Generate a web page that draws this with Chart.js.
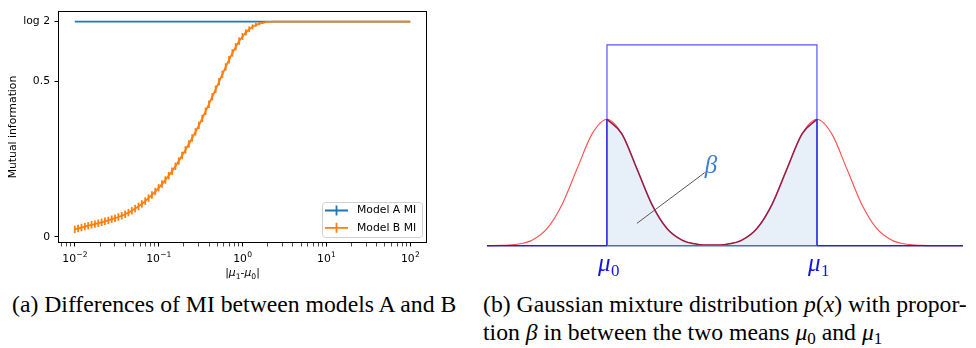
<!DOCTYPE html>
<html>
<head>
<meta charset="utf-8">
<script src="https://cdn.jsdelivr.net/npm/chart.js@4.4.0/dist/chart.umd.min.js"></script>
<style>
  body { margin: 0; background: #fff; }
  #page { position: relative; width: 976px; height: 348px; overflow: hidden; }
  canvas { position: absolute; top: 0; }
  #miChart { left: 0; }
  #gaussChart { left: 470px; }
  .cap { position: absolute; top: 290px; font-family: "Liberation Serif", "Times New Roman", serif; font-size: 23.7px; line-height: 28px; color: #000; white-space: nowrap; }
  .cap sub { font-size: 17px; vertical-align: -4px; line-height: 0; }
  #capA { left: 12px; }
  #capB { left: 483px; }
  #capB .l1 { width: 475px; text-align: justify; text-align-last: justify; }
</style>
</head>
<body>
<div id="page">
  <canvas id="miChart" width="440" height="290"></canvas>
  <canvas id="gaussChart" width="506" height="290"></canvas>
  <div class="cap" id="capA">(a) Differences of MI between models A and B</div>
  <div class="cap" id="capB">
    <div class="l1">(b) Gaussian mixture distribution <i>p</i>(<i>x</i>) with propor-</div>
    <div>tion <i>β</i> in between the two means <i>μ</i><sub>0</sub> and <i>μ</i><sub>1</sub></div>
  </div>
</div>
<script>
// ---- panel (a): mutual information vs |mu1 - mu0| ----
const LOG2 = 0.693;

// log10 of |mu1 - mu0| for each error bar
const xExp = [
  -2.00, -1.96, -1.92, -1.88, -1.84, -1.80, -1.76, -1.72, -1.68, -1.64,
  -1.60, -1.56, -1.52, -1.48, -1.44, -1.40, -1.36, -1.32, -1.28, -1.24,
  -1.20, -1.16, -1.12, -1.08, -1.04, -1.00, -0.96, -0.92, -0.88, -0.84,
  -0.80, -0.76, -0.72, -0.68, -0.64, -0.60, -0.56, -0.52, -0.48, -0.44,
  -0.40, -0.36, -0.32, -0.28, -0.24, -0.20, -0.16, -0.12, -0.08, -0.04,
   0.00,  0.04,  0.08,  0.12,  0.16,  0.20,  0.24,  0.28,  0.32,  0.36,
   0.40,  0.44,  0.48,  0.52,  0.56,  0.60,  0.64,  0.68,  0.72,  0.76,
   0.80,  0.84,  0.88,  0.92,  0.96,  1.00,  1.04,  1.08,  1.12,  1.16,
   1.20,  1.24,  1.28,  1.32,  1.36,  1.40,  1.44,  1.48,  1.52,  1.56,
   1.60,  1.64,  1.68,  1.72,  1.76,  1.80,  1.84,  1.88,  1.92,  1.96,
   2.00
];

const modelB = [
  0.024, 0.027, 0.030, 0.033, 0.036, 0.039, 0.041, 0.044, 0.047, 0.050,
  0.053, 0.057, 0.060, 0.064, 0.068, 0.073, 0.078, 0.084, 0.091, 0.098,
  0.106, 0.115, 0.125, 0.135, 0.146, 0.158, 0.170, 0.183, 0.197, 0.211,
  0.227, 0.244, 0.262, 0.280, 0.299, 0.318, 0.338, 0.359, 0.381, 0.404,
  0.427, 0.451, 0.475, 0.499, 0.523, 0.547, 0.570, 0.592, 0.612, 0.630,
  0.645, 0.658, 0.668, 0.676, 0.682, 0.686, 0.689, 0.691, 0.692, 0.693,
  0.693, 0.693, 0.693, 0.693, 0.693, 0.693, 0.693, 0.693, 0.693, 0.693,
  0.693, 0.693, 0.693, 0.693, 0.693, 0.693, 0.693, 0.693, 0.693, 0.693,
  0.693, 0.693, 0.693, 0.693, 0.693, 0.693, 0.693, 0.693, 0.693, 0.693,
  0.693, 0.693, 0.693, 0.693, 0.693, 0.693, 0.693, 0.693, 0.693, 0.693,
  0.693
];

const modelBErr = [
  0.012, 0.012, 0.012, 0.012, 0.012, 0.012, 0.012, 0.012, 0.012, 0.012,
  0.012, 0.012, 0.012, 0.012, 0.012, 0.012, 0.012, 0.012, 0.012, 0.012,
  0.012, 0.012, 0.012, 0.012, 0.012, 0.012, 0.012, 0.012, 0.012, 0.012,
  0.012, 0.012, 0.012, 0.012, 0.012, 0.012, 0.012, 0.012, 0.012, 0.012,
  0.012, 0.012, 0.012, 0.012, 0.012, 0.012, 0.012, 0.012, 0.012, 0.012,
  0.011, 0.010, 0.009, 0.008, 0.006, 0.005, 0.004, 0.003, 0.002, 0.001,
  0, 0, 0, 0, 0, 0, 0, 0, 0, 0,
  0, 0, 0, 0, 0, 0, 0, 0, 0, 0,
  0, 0, 0, 0, 0, 0, 0, 0, 0, 0,
  0, 0, 0, 0, 0, 0, 0, 0, 0, 0,
  0
];

// model A stays at log 2 over the whole range
const modelAExp = [-2, 2];
const modelA = [LOG2, LOG2];

const xTickValues = [0.01, 0.1, 1, 10, 100];
const xTickExps = ['−2', '−1', '0', '1', '2'];
const yTickValues = [0, 0.5, LOG2];
const yTickLabels = ['0', '0.5', 'log 2'];

const tickFont = { family: 'DejaVu Sans', size: 10.8 };

const errorBars = {
  id: 'errorBars',
  afterDatasetsDraw(chart) {
    const { ctx, scales: { x, y } } = chart;
    chart.data.datasets.forEach(ds => {
      if (!ds.errors) return;
      ctx.save();
      ctx.strokeStyle = ds.borderColor;
      ctx.lineWidth = 1.8;
      ds.data.forEach((p, i) => {
        const e = ds.errors[i];
        if (!e) return;
        const px = x.getPixelForValue(p.x);
        ctx.beginPath();
        ctx.moveTo(px, y.getPixelForValue(p.y - e));
        ctx.lineTo(px, y.getPixelForValue(p.y + e));
        ctx.stroke();
      });
      ctx.restore();
    });
  }
};

const frame = {
  id: 'frame',
  afterDraw(chart) {
    const { ctx, chartArea: a } = chart;
    ctx.save();
    ctx.strokeStyle = '#000';
    ctx.lineWidth = 1;
    ctx.strokeRect(Math.round(a.left) + 0.5, Math.round(a.top) + 0.5,
      Math.round(a.width) - 1, Math.round(a.height) - 1);
    ctx.restore();
  }
};

// 10^k tick labels and the |mu1-mu0| axis title, with real superscripts/subscripts
const xAxisText = {
  id: 'xAxisText',
  afterDraw(chart) {
    const { ctx, scales: { x }, chartArea: a } = chart;
    const big = '10.8px "DejaVu Sans"', small = '7.6px "DejaVu Sans"';
    ctx.save();
    ctx.fillStyle = '#000';
    ctx.textBaseline = 'alphabetic';
    ctx.textAlign = 'left';
    xTickValues.forEach((v, i) => {
      const px = x.getPixelForValue(v);
      ctx.font = big;
      const wb = ctx.measureText('10').width;
      ctx.font = small;
      const we = ctx.measureText(xTickExps[i]).width;
      const left = px - (wb + we) / 2;
      ctx.font = big;
      ctx.fillText('10', left, a.bottom + 19);
      ctx.font = small;
      ctx.fillText(xTickExps[i], left + wb + 0.3, a.bottom + 14);
    });
    const parts = [
      ['|', big], ['μ', 'italic ' + big], ['1', small], ['-', big],
      ['μ', 'italic ' + big], ['0', small], ['|', big]
    ];
    let total = 0;
    parts.forEach(p => { ctx.font = p[1]; total += ctx.measureText(p[0]).width; });
    let cx = (a.left + a.right) / 2 - total / 2;
    parts.forEach(p => {
      ctx.font = p[1];
      ctx.fillText(p[0], cx, p[1] === small ? 278.5 : 276);
      cx += ctx.measureText(p[0]).width;
    });
    ctx.restore();
  }
};

// matplotlib-style legend box in the lower right corner
const boxLegend = {
  id: 'boxLegend',
  afterDraw(chart) {
    const { ctx, chartArea: a } = chart;
    const w = 100, h = 35;
    const left = Math.round(a.right - 5 - w), top = Math.round(a.bottom - 5.5 - h);
    ctx.save();
    ctx.fillStyle = 'rgba(255,255,255,0.8)';
    ctx.strokeStyle = '#d0d0d0';
    ctx.lineWidth = 1;
    ctx.beginPath();
    ctx.roundRect(left + 0.5, top + 0.5, w, h, 3);
    ctx.fill();
    ctx.stroke();
    chart.data.datasets.forEach((ds, i) => {
      const yy = top + 8.5 + i * 17.3;
      ctx.strokeStyle = ds.borderColor;
      ctx.lineWidth = 1.8;
      ctx.beginPath();
      ctx.moveTo(left + 3, yy);
      ctx.lineTo(left + 26, yy);
      ctx.moveTo(left + 14.5, yy - 5);
      ctx.lineTo(left + 14.5, yy + 5);
      ctx.stroke();
      ctx.fillStyle = '#000';
      ctx.font = '10.8px "DejaVu Sans"';
      ctx.textBaseline = 'middle';
      ctx.fillText(ds.label, left + 35, yy);
    });
    ctx.restore();
  }
};

new Chart(document.getElementById('miChart'), {
  type: 'line',
  data: {
    datasets: [
      {
        label: 'Model A MI',
        data: modelAExp.map((e, i) => ({ x: Math.pow(10, e), y: modelA[i] })),
        borderColor: '#1f77b4',
        borderWidth: 1.8,
        pointRadius: 0,
        order: 2
      },
      {
        label: 'Model B MI',
        data: xExp.map((e, i) => ({ x: Math.pow(10, e), y: modelB[i] })),
        errors: modelBErr,
        borderColor: '#ff7f0e',
        borderWidth: 1.8,
        pointRadius: 0,
        order: 1
      }
    ]
  },
  options: {
    responsive: false,
    animation: false,
    events: [],
    layout: { padding: { top: 4, right: 13, left: 0, bottom: 0 } },
    plugins: { legend: { display: false }, tooltip: { enabled: false } },
    scales: {
      x: {
        type: 'logarithmic',
        min: Math.pow(10, -2.2),
        max: Math.pow(10, 2.2),
        afterBuildTicks: ax => {
          const t = [];
          for (let k = -3; k <= 2; k++) {
            for (let m = 1; m <= 9; m++) {
              const v = m * Math.pow(10, k);
              if (v >= ax.min && v <= ax.max) t.push({ value: v, major: m === 1 });
            }
          }
          ax.ticks = t;
        },
        afterFit: ax => { ax.height = 47; },
        border: { display: false },
        grid: {
          drawOnChartArea: false,
          tickLength: 3.5,
          tickColor: '#000',
          tickWidth: c => (c.tick && c.tick.major ? 1 : 0.7)
        },
        ticks: { autoSkip: false, maxRotation: 0, font: tickFont, callback: () => '' }
      },
      y: {
        min: -0.0197,
        max: 0.727,
        afterBuildTicks: ax => { ax.ticks = yTickValues.map(v => ({ value: v })); },
        afterFit: ax => { ax.width = 58; },
        border: { display: false },
        grid: { drawOnChartArea: false, tickLength: 3.5, tickColor: '#000', tickWidth: 1 },
        ticks: {
          padding: 4.5,
          color: '#000',
          font: tickFont,
          callback: (v, i) => yTickLabels[i]
        },
        title: {
          display: true,
          text: 'Mutual information',
          color: '#000',
          font: { family: 'DejaVu Sans', size: 10.8 },
          padding: { top: 6.5, bottom: 0 }
        }
      }
    }
  },
  plugins: [errorBars, frame, xAxisText, boxLegend]
});

// ---- panel (b): Gaussian mixture p(x), x in units of sigma, mu0 = 0, mu1 = 7 ----
const gaussX = [
  -4, -3.5, -3, -2.5, -2, -1.5, -1, -0.5, 0, 0.5, 1, 1.5, 2, 2.5, 3, 3.5,
  4, 4.5, 5, 5.5, 6, 6.5, 7, 7.5, 8, 8.5, 9, 9.5, 10, 10.5, 11, 11.5, 11.87
];
const gaussY = [
  0.0003, 0.0022, 0.0111, 0.0439, 0.1353, 0.3247, 0.6065, 0.8825, 1.0, 0.8825,
  0.6065, 0.3247, 0.1353, 0.0439, 0.0114, 0.0044, 0.0114, 0.0439, 0.1353, 0.3247,
  0.6065, 0.8825, 1.0, 0.8825, 0.6065, 0.3247, 0.1353, 0.0439, 0.0111, 0.0022,
  0.0003, 0.0, 0.0
];
const means = [0, 7];
const meanSubs = ['0', '1'];
const rectX = [0, 0, 7, 7];
const rectY = [0, 1.588, 1.588, 0];
const baseX = [-4, 0, 7, 11.87];
const pointerX = [1.0, 3.26];
const pointerY = [0.177, 0.578];
const betaAt = { x: 3.47, y: 0.63 };

const pts = (xs, ys) => xs.map((v, i) => ({ x: v, y: ys[i] }));
const inside = pts(gaussX, gaussY).filter(p => p.x >= 0 && p.x <= 7);

const gaussLabels = {
  id: 'gaussLabels',
  afterDraw(chart) {
    const { ctx, scales: { x, y } } = chart;
    const y0 = y.getPixelForValue(0);
    ctx.save();
    ctx.textBaseline = 'alphabetic';
    ctx.textAlign = 'left';
    means.forEach((m, i) => {
      const px = x.getPixelForValue(m) - 9;
      ctx.fillStyle = '#1414e6';
      ctx.font = 'italic 25px "Liberation Serif"';
      const wMu = ctx.measureText('μ').width;
      ctx.fillText('μ', px, y0 + 25);
      ctx.font = '17px "Liberation Serif"';
      ctx.fillText(meanSubs[i], px + wMu + 0.5, y0 + 30);
    });
    ctx.fillStyle = '#3b7fd6';
    ctx.font = 'italic 25px "Liberation Serif"';
    ctx.textAlign = 'center';
    ctx.textBaseline = 'middle';
    ctx.fillText('β', x.getPixelForValue(betaAt.x), y.getPixelForValue(betaAt.y));
    ctx.restore();
  }
};

new Chart(document.getElementById('gaussChart'), {
  type: 'line',
  data: {
    datasets: [
      {
        data: pts(gaussX, gaussY),
        borderColor: '#ff4d4d',
        borderWidth: 1.1,
        cubicInterpolationMode: 'monotone',
        pointRadius: 0,
        order: 4
      },
      {
        data: pts(rectX, rectY),
        borderColor: '#5656f2',
        borderWidth: 1.2,
        pointRadius: 0,
        order: 5
      },
      {
        data: inside,
        borderColor: '#9b1d45',
        borderWidth: 1.6,
        backgroundColor: '#e7eff9',
        fill: 'origin',
        cubicInterpolationMode: 'monotone',
        pointRadius: 0,
        order: 3
      },
      {
        data: [{ x: 0, y: 0 }, { x: 0, y: 1 }, { x: 3.5, y: null }, { x: 7, y: 1 }, { x: 7, y: 0 }],
        borderColor: '#1c1cd8',
        borderWidth: 1.4,
        pointRadius: 0,
        spanGaps: false,
        order: 2
      },
      {
        data: baseX.map(v => ({ x: v, y: 0 })),
        borderWidth: 1.6,
        borderColor: '#2b22c4',
        segment: {
          borderColor: c => (c.p0.parsed.x >= 0 && c.p1.parsed.x <= 7 ? '#3a74c6' : '#2b22c4')
        },
        pointRadius: 0,
        order: 1
      },
      {
        data: pts(pointerX, pointerY),
        borderColor: '#555555',
        borderWidth: 1,
        pointRadius: 0,
        order: 0
      }
    ]
  },
  options: {
    responsive: false,
    animation: false,
    events: [],
    layout: { padding: { top: 40, right: 13, left: 17, bottom: 40 } },
    plugins: { legend: { display: false }, tooltip: { enabled: false } },
    scales: {
      x: { type: 'linear', min: -4, max: 11.87, display: false },
      y: { min: -0.034, max: 1.627, display: false }
    }
  },
  plugins: [gaussLabels]
});
</script>
</body>
</html>
